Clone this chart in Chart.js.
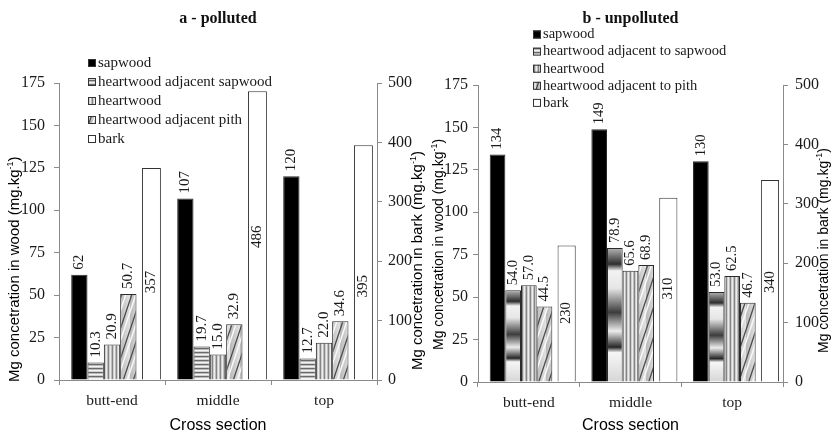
<!DOCTYPE html>
<html lang="en">

<head>
    <meta charset="UTF-8">
    <title>Mg concentration - polluted / unpolluted</title>
    <script src="https://cdn.jsdelivr.net/npm/chart.js"></script>
    <style>
        body {
            margin: 0;
            background: #fff;
        }

        .wrap {
            position: relative;
            width: 832px;
            height: 435px;
        }

        .wrap canvas {
            position: absolute;
            top: 0;
        }
    </style>
</head>

<body>
    <div class="wrap">
        <canvas id="chartA" width="426" height="435" style="left:0"></canvas>
        <canvas id="chartB" width="406" height="435" style="left:426px"></canvas>
    </div>
    <script>
        const categories = ['butt-end', 'middle', 'top'];
        const woodTicks = [0, 25, 50, 75, 100, 125, 150, 175];
        const barkTicks = [0, 100, 200, 300, 400, 500];

        // a - polluted
        const pollutedSapwood = [62, 107, 120];
        const pollutedNearSapwood = [10.3, 19.7, 12.7];
        const pollutedHeartwood = [20.9, 15.0, 22.0];
        const pollutedNearPith = [50.7, 32.9, 34.6];
        const pollutedBark = [357, 486, 395];
        const pollutedNames = ['sapwood', 'heartwood adjacent sapwood', 'heartwood', 'heartwood adjacent pith', 'bark'];

        // b - unpolluted
        const cleanSapwood = [134, 149, 130];
        const cleanNearSapwood = [54.0, 78.9, 53.0];
        const cleanHeartwood = [57.0, 65.6, 62.5];
        const cleanNearPith = [44.5, 68.9, 46.7];
        const cleanBark = [230, 310, 340];
        const cleanNames = ['sapwood', 'heartwood adjacent to sapwood', 'heartwood', 'heartwood adjacent to pith', 'bark'];

        const serif = '"Liberation Serif", "Times New Roman", serif';
        const sans = '"Liberation Sans", Arial, sans-serif';
        const axisGray = '#8a8a8a';
        const inkColor = '#1a1a1a';

        // shading of the "adjacent to sapwood" bars in chart b (top -> base)
        const bandStops = [
            [0, '#b4b4b4'], [0.12, '#2e2e2e'], [0.17, '#f2f2f2'], [0.3, '#e6e6e6'],
            [0.48, '#3c3c3c'], [0.62, '#ececec'], [0.74, '#262626'], [0.78, '#f6f6f6'], [1, '#d6d6d6']
        ];

        function makeTile(w, h, paint) {
            const c = document.createElement('canvas');
            c.width = w;
            c.height = h;
            paint(c.getContext('2d'), w, h);
            return c;
        }

        const hStripeTile = makeTile(1, 4, function (g) {
            ['#6a6a6a', '#b8b8b8', '#f4f4f4', '#d0d0d0'].forEach(function (col, i) {
                g.fillStyle = col;
                g.fillRect(0, i, 1, 1);
            });
        });

        const vStripeTile = makeTile(4, 1, function (g) {
            ['#858585', '#cfcfcf', '#ededed', '#bdbdbd'].forEach(function (col, i) {
                g.fillStyle = col;
                g.fillRect(i, 0, 1, 1);
            });
        });

        const diagTile = makeTile(10, 30, function (g, w, h) {
            const bg = g.createLinearGradient(0, 0, w, 0);
            bg.addColorStop(0, '#b8b8b8');
            bg.addColorStop(1, '#e4e4e4');
            g.fillStyle = bg;
            g.fillRect(0, 0, w, h);
            [-w, 0, w].forEach(function (dx) {
                g.strokeStyle = '#4a4a4a';
                g.lineWidth = 1.3;
                g.beginPath();
                g.moveTo(dx, h);
                g.lineTo(dx + w, 0);
                g.stroke();
                g.strokeStyle = '#fafafa';
                g.lineWidth = 1.5;
                g.beginPath();
                g.moveTo(dx + 4, h);
                g.lineTo(dx + 4 + w, 0);
                g.stroke();
            });
        });

        function bandedFill(context) {
            const chart = context.chart;
            if (!chart.chartArea || context.type !== 'data') {
                return '#999';
            }
            const y = chart.scales.y;
            const top = y.getPixelForValue(context.raw);
            const base = y.getPixelForValue(0);
            const g = chart.ctx.createLinearGradient(0, top, 0, base);
            bandStops.forEach(function (s) { g.addColorStop(s[0], s[1]); });
            return g;
        }

        function drawAxisTitle(ctx, word, x, yStart, size) {
            ctx.save();
            ctx.translate(x, yStart);
            ctx.rotate(-Math.PI / 2);
            ctx.textBaseline = 'middle';
            ctx.textAlign = 'left';
            ctx.fillStyle = '#000';
            const main = 'Mg concetration in ' + word + ' (mg.kg';
            ctx.font = size + 'px ' + sans;
            ctx.fillText(main, 0, 0);
            let w = ctx.measureText(main).width;
            ctx.font = Math.round(size * 0.62) + 'px ' + sans;
            ctx.fillText('-1', w, -size * 0.33);
            w += ctx.measureText('-1').width;
            ctx.font = size + 'px ' + sans;
            ctx.fillText(')', w, 0);
            ctx.restore();
        }

        function makeExtras(s) {
            return {
                id: 'extras',
                afterDatasetsDraw(chart) {
                    const ctx = chart.ctx;
                    ctx.save();
                    ctx.font = s.labelSize + 'px ' + serif;
                    ctx.fillStyle = inkColor;
                    ctx.textBaseline = 'middle';
                    chart.data.datasets.forEach(function (ds, i) {
                        chart.getDatasetMeta(i).data.forEach(function (bar, j) {
                            const text = ds.data[j].toFixed(ds.digits);
                            ctx.save();
                            if (ds.yAxisID === 'y2') {
                                ctx.translate(bar.x, chart.scales.y2.getPixelForValue(s.barkLabelAt[j]));
                                ctx.textAlign = 'center';
                            } else {
                                ctx.translate(bar.x, bar.y - 5);
                                ctx.textAlign = 'left';
                            }
                            ctx.rotate(-Math.PI / 2);
                            ctx.fillText(text, 0, 0);
                            ctx.restore();
                        });
                    });
                    ctx.restore();
                },
                afterDraw(chart) {
                    const ctx = chart.ctx;
                    const L = s.legend;
                    ctx.save();
                    ctx.font = L.size + 'px ' + serif;
                    ctx.textBaseline = 'middle';
                    ctx.textAlign = 'left';
                    L.names.forEach(function (name, i) {
                        const cy = L.y + i * L.gap;
                        ctx.fillStyle = L.swatches[i];
                        ctx.fillRect(L.x, cy - 4, 8, 8);
                        ctx.strokeStyle = '#333';
                        ctx.lineWidth = 1;
                        ctx.strokeRect(L.x + 0.5, cy - 3.5, 7, 7);
                        ctx.fillStyle = inkColor;
                        ctx.fillText(name, L.x + 10, cy);
                    });
                    ctx.restore();
                    s.axisTitles.forEach(function (t) {
                        drawAxisTitle(ctx, t.word, t.x, t.y, s.titleSize);
                    });
                }
            };
        }

        function woodSet(label, data, fill, digits) {
            return {
                label: label,
                data: data,
                backgroundColor: fill,
                borderColor: '#2b2b2b',
                borderWidth: 1,
                yAxisID: 'y',
                categoryPercentage: 0.77,
                barPercentage: 1,
                digits: digits
            };
        }

        function barkSet(data) {
            return {
                label: 'bark',
                data: data,
                backgroundColor: '#fff',
                borderColor: '#333',
                borderWidth: 1,
                yAxisID: 'y2',
                categoryPercentage: 0.93,
                barPercentage: 0.96,
                digits: 0
            };
        }

        function makeChart(id, title, sets, s) {
            return new Chart(document.getElementById(id), {
                type: 'bar',
                data: { labels: categories, datasets: sets },
                options: {
                    responsive: false,
                    animation: false,
                    devicePixelRatio: 1,
                    layout: { padding: 0 },
                    plugins: {
                        legend: { display: false },
                        tooltip: { enabled: false },
                        title: {
                            display: true,
                            text: title,
                            fullSize: false,
                            color: '#111',
                            font: { family: serif, size: 16, weight: 'bold' },
                            padding: { top: 9, bottom: s.top - 9 - 19.2 }
                        }
                    },
                    scales: {
                        x: {
                            offset: true,
                            grid: { display: true, drawOnChartArea: false, offset: true, color: axisGray, tickLength: 5 },
                            border: { color: axisGray },
                            ticks: { color: inkColor, font: { family: serif, size: 15.5 }, padding: 7 },
                            title: {
                                display: true,
                                text: 'Cross section',
                                color: '#000',
                                font: { family: sans, size: 16 },
                                padding: { top: 0, bottom: 0 }
                            },
                            afterFit: function (scale) { scale.height = s.bottomH; }
                        },
                        y: {
                            position: 'left',
                            min: 0,
                            max: 175,
                            afterBuildTicks: function (scale) {
                                scale.ticks = woodTicks.map(function (v) { return { value: v }; });
                            },
                            grid: { drawOnChartArea: false, color: axisGray, tickLength: 5 },
                            border: { color: axisGray },
                            ticks: { color: inkColor, font: { family: serif, size: 16 }, padding: s.leftPad },
                            afterFit: function (scale) { scale.width = s.leftW; }
                        },
                        y2: {
                            position: 'right',
                            min: 0,
                            max: 500,
                            afterBuildTicks: function (scale) {
                                scale.ticks = barkTicks.map(function (v) { return { value: v }; });
                            },
                            grid: { drawOnChartArea: false, color: axisGray, tickLength: 5 },
                            border: { color: axisGray },
                            ticks: { color: inkColor, font: { family: serif, size: 16 }, padding: s.rightPad },
                            afterFit: function (scale) { scale.width = s.rightW; }
                        }
                    }
                },
                plugins: [makeExtras(s)]
            });
        }

        const ctxA = document.getElementById('chartA').getContext('2d');
        const ctxB = document.getElementById('chartB').getContext('2d');

        const hStripeA = ctxA.createPattern(hStripeTile, 'repeat');
        const vStripeA = ctxA.createPattern(vStripeTile, 'repeat');
        const diagA = ctxA.createPattern(diagTile, 'repeat');
        const hStripeB = ctxB.createPattern(hStripeTile, 'repeat');
        const vStripeB = ctxB.createPattern(vStripeTile, 'repeat');
        const diagB = ctxB.createPattern(diagTile, 'repeat');

        makeChart('chartA', 'a - polluted', [
            woodSet(pollutedNames[0], pollutedSapwood, '#000', 0),
            woodSet(pollutedNames[1], pollutedNearSapwood, hStripeA, 1),
            woodSet(pollutedNames[2], pollutedHeartwood, vStripeA, 1),
            woodSet(pollutedNames[3], pollutedNearPith, diagA, 1),
            barkSet(pollutedBark)
        ], {
            top: 83, bottomH: 55, leftW: 59, rightW: 49, leftPad: 9, rightPad: 6,
            labelSize: 15,
            titleSize: 15,
            barkLabelAt: [165, 241, 158],
            legend: { x: 88, y: 63, gap: 19, size: 15, names: pollutedNames, swatches: ['#000', hStripeA, vStripeA, diagA, '#fff'] },
            axisTitles: [{ word: 'wood', x: 15, y: 382 }, { word: 'bark', x: 418, y: 370 }]
        });

        makeChart('chartB', 'b - unpolluted', [
            woodSet(cleanNames[0], cleanSapwood, '#000', 0),
            woodSet(cleanNames[1], cleanNearSapwood, bandedFill, 1),
            woodSet(cleanNames[2], cleanHeartwood, vStripeB, 1),
            woodSet(cleanNames[3], cleanNearPith, diagB, 1),
            barkSet(cleanBark)
        ], {
            top: 85, bottomH: 53, leftW: 52, rightW: 49, leftPad: 5, rightPad: 7,
            labelSize: 14.5,
            titleSize: 14,
            barkLabelAt: [116, 157, 168],
            legend: { x: 107, y: 34.5, gap: 17.1, size: 14.5, names: cleanNames, swatches: ['#000', hStripeB, vStripeB, diagB, '#fff'] },
            axisTitles: [{ word: 'wood', x: 13, y: 350 }, { word: 'bark', x: 398, y: 353 }]
        });
    </script>
</body>

</html>
